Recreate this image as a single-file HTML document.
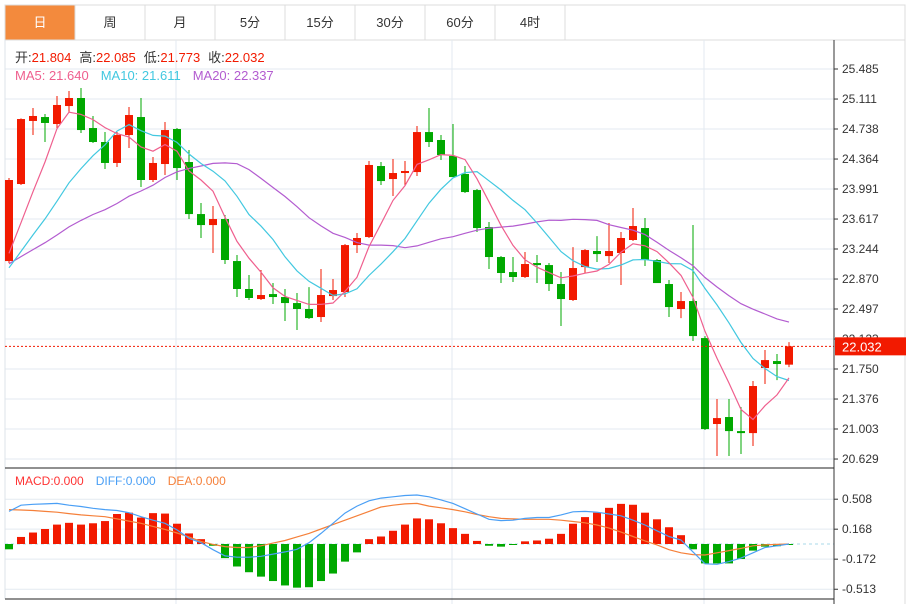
<!DOCTYPE html>
<html><head><meta charset="utf-8">
<style>
html,body{margin:0;padding:0;background:#fff;}
body{width:910px;height:604px;overflow:hidden;font-family:"Liberation Sans","Noto Sans CJK SC",sans-serif;}
svg text{font-family:"Liberation Sans","Noto Sans CJK SC",sans-serif;}
</style></head>
<body>
<svg id="chart" width="910" height="604" viewBox="0 0 910 604" xmlns="http://www.w3.org/2000/svg">
  <g id="tabs"></g>
  <g id="grid"></g>
  <g id="main"></g>
  <g id="macd"></g>
  <g id="axes"></g>
  <g id="legend"></g>
</svg>
<script>
// ---- data ----
const periods = ["日","周","月","5分","15分","30分","60分","4时"];
const historyCloses = [23.08,23.14,23.10,23.13,23.09,23.12,23.11,23.10,23.12,23.11,22.81,22.85,22.82,22.84,22.83,22.95,22.97,22.96,22.96];
const opens  = [23.094,24.053,24.838,24.887,24.800,25.024,25.124,24.750,24.576,24.315,24.663,24.887,24.103,24.302,24.738,24.327,23.679,23.542,23.617,23.094,22.746,22.621,22.683,22.646,22.571,22.497,22.397,22.658,22.708,23.293,23.393,24.277,24.115,24.190,24.202,24.700,24.601,24.402,24.178,23.978,23.518,23.144,22.957,22.895,23.069,23.044,22.808,22.609,23.019,23.219,23.156,23.194,23.356,23.505,23.107,22.808,22.497,22.596,22.135,21.065,21.152,20.977,20.952,21.762,21.849,21.804];
const highs  = [24.128,24.870,24.999,24.925,25.149,25.211,25.248,24.900,24.700,24.700,25.012,25.124,24.389,24.825,24.750,24.476,23.816,23.779,23.667,23.169,22.920,22.982,22.820,22.746,22.696,22.770,22.995,22.870,23.306,23.443,24.339,24.327,24.364,24.339,24.775,24.999,24.663,24.800,24.277,23.991,23.580,23.157,23.144,23.206,23.169,23.069,22.957,23.268,23.243,23.405,23.567,23.455,23.754,23.630,23.119,22.858,22.708,23.542,22.160,21.376,21.376,21.276,21.600,21.986,21.936,22.085];
const lows   = [23.069,24.040,24.663,24.576,24.750,24.950,24.688,24.564,24.240,24.265,24.501,24.016,24.078,24.165,24.103,23.617,23.381,23.194,23.057,22.646,22.609,22.609,22.559,22.347,22.235,22.372,22.335,22.609,22.646,23.194,23.381,24.041,23.904,24.041,24.153,24.514,24.352,24.140,23.941,23.455,22.995,22.820,22.833,22.883,22.820,22.721,22.285,22.596,22.945,23.082,23.069,22.795,23.343,23.032,22.820,22.397,22.384,22.098,20.990,20.666,20.666,20.691,20.791,21.563,21.612,21.773];
const closes = [24.103,24.862,24.900,24.813,25.037,25.124,24.725,24.576,24.315,24.663,24.912,24.103,24.315,24.725,24.252,23.679,23.542,23.617,23.107,22.746,22.634,22.671,22.646,22.571,22.497,22.384,22.671,22.733,23.293,23.381,24.290,24.090,24.190,24.215,24.700,24.576,24.414,24.140,23.953,23.505,23.144,22.945,22.895,23.057,23.044,22.808,22.621,23.007,23.231,23.181,23.219,23.381,23.530,23.107,22.820,22.521,22.596,22.160,21.002,21.139,20.977,20.952,21.538,21.861,21.812,22.032];
const macdHist = [-0.06,0.08,0.13,0.17,0.22,0.24,0.22,0.235,0.26,0.34,0.355,0.30,0.35,0.345,0.23,0.12,0.055,-0.02,-0.16,-0.255,-0.32,-0.37,-0.42,-0.47,-0.495,-0.49,-0.42,-0.335,-0.20,-0.095,0.055,0.085,0.15,0.22,0.29,0.28,0.235,0.18,0.115,0.035,-0.02,-0.03,-0.01,0.03,0.04,0.06,0.115,0.23,0.305,0.355,0.41,0.455,0.445,0.355,0.28,0.19,0.10,-0.06,-0.22,-0.22,-0.22,-0.17,-0.075,-0.03,-0.025,-0.005];
const diffVals = [0.37,0.44,0.45,0.455,0.46,0.44,0.425,0.405,0.39,0.38,0.355,0.31,0.27,0.235,0.16,0.065,0.015,-0.065,-0.135,-0.15,-0.15,-0.14,-0.115,-0.09,-0.06,0.015,0.12,0.235,0.35,0.43,0.49,0.52,0.535,0.55,0.555,0.535,0.50,0.46,0.40,0.34,0.28,0.265,0.27,0.29,0.30,0.30,0.33,0.365,0.37,0.36,0.34,0.32,0.27,0.215,0.15,0.085,0.045,-0.09,-0.225,-0.23,-0.2,-0.16,-0.1,-0.04,-0.02,0];
const deaVals  = [0.39,0.385,0.38,0.37,0.36,0.345,0.33,0.32,0.31,0.285,0.26,0.235,0.2,0.165,0.125,0.08,0.03,-0.005,-0.03,-0.04,-0.04,-0.02,0.01,0.04,0.08,0.12,0.17,0.22,0.27,0.32,0.37,0.42,0.44,0.455,0.46,0.43,0.41,0.39,0.365,0.335,0.31,0.29,0.285,0.28,0.28,0.28,0.27,0.255,0.24,0.215,0.18,0.135,0.085,0.035,-0.01,-0.065,-0.1,-0.12,-0.125,-0.1,-0.075,-0.05,-0.02,-0.01,-0.005,0];
const priceTicks = [25.485,25.111,24.738,24.364,23.991,23.617,23.244,22.870,22.497,22.123,21.750,21.376,21.003,20.629];
const macdTicks = [0.508,0.168,-0.172,-0.513];
const vGridIdx = [14,37,58];

// ---- scales ----
const NS="http://www.w3.org/2000/svg";
const X0=9, STEP=12, L=5, R=834;
const xAt=i=>X0+STEP*i;
const yP=p=>69+(25.485-p)*80.32;
const yM=v=>544-v*88.2;
const RED="#f21a00", GREEN="#00a800";
function mk(parent,tag,attrs,text){const e=document.createElementNS(NS,tag);for(const k in attrs)e.setAttribute(k,attrs[k]);if(text!==undefined)e.textContent=text;parent.appendChild(e);return e;}
const $=id=>document.getElementById(id);

// ---- tabs ----
const tabs=$('tabs');
mk(tabs,'rect',{x:5,y:5,width:900,height:35,fill:'#fff',stroke:'#dcdcdc'});
periods.forEach((p,i)=>{
  const g=mk(tabs,'g',{});
  
  
  const x=5+70*i;
  mk(g,'rect',{x:x,y:5,width:70,height:35,fill:i===0?'#f38a3d':'#fff',stroke:'#dcdcdc'});
  mk(g,'text',{x:x+35,y:27,'text-anchor':'middle','font-size':13,fill:i===0?'#fff':'#333'},p);
});

// ---- frame & grid ----
const grid=$('grid');
mk(grid,'line',{x1:905,y1:40,x2:905,y2:604,stroke:'#dcdcdc'});
priceTicks.forEach(t=>{const l=mk(grid,'line',{x1:L,x2:R,y1:yP(t),y2:yP(t),stroke:'#e3eaf0'});});
macdTicks.forEach(t=>{mk(grid,'line',{x1:L,x2:R,y1:yM(t),y2:yM(t),stroke:'#e3eaf0'});});
vGridIdx.forEach(i=>{const l=mk(grid,'line',{x1:xAt(i)-1,x2:xAt(i)-1,y1:40,y2:604,stroke:'#e3eaf0'});});
mk(grid,'line',{x1:L,x2:L,y1:40,y2:599,stroke:'#dde3e8'});

// ---- moving averages ----
const allCloses=historyCloses.concat(closes);
function ma(n){return closes.map((c,i)=>{const e=historyCloses.length+i+1;let s=0;for(let k=e-n;k<e;k++)s+=allCloses[k];return s/n;});}
const ma5=ma(5), ma10=ma(10), ma20=ma(20);

// ---- candles ----
const main=$('main');
closes.forEach((c,i)=>{
  const o=opens[i], up=c>=o, col=up?RED:GREEN, x=xAt(i);
  const g=mk(main,'g',{});
  
  
  mk(g,'line',{x1:x,x2:x,y1:yP(highs[i]),y2:yP(lows[i]),stroke:col,'stroke-width':1});
  const top=yP(Math.max(o,c)), h=Math.max(1.5,Math.abs(yP(o)-yP(c)));
  mk(g,'rect',{x:x-4,y:top,width:8,height:h,fill:col});
});
function poly(parent,vals,yf,color,name){
  const pts=vals.map((v,i)=>xAt(i)+','+yf(v).toFixed(1)).join(' ');
  const p=mk(parent,'polyline',{points:pts,fill:'none',stroke:color,'stroke-width':1.2});
  
  
}
poly(main,ma20,yP,'#b35cd0','ma20-line');
poly(main,ma10,yP,'#42c8e0','ma10-line');
poly(main,ma5,yP,'#ef5f8e','ma5-line');
const last=closes[closes.length-1];
const pl=mk(main,'line',{x1:L,x2:R,y1:yP(last),y2:yP(last),stroke:RED,'stroke-dasharray':'2,2'});



// ---- MACD ----
const macd=$('macd');
mk(macd,'line',{x1:L,x2:R,y1:yM(0),y2:yM(0),stroke:'#a8d8ea','stroke-dasharray':'3,3'});
macdHist.forEach((v,i)=>{
  const r=mk(macd,'rect',{x:xAt(i)-4,y:Math.min(yM(0),yM(v)),width:8,height:Math.max(1,Math.abs(yM(v)-yM(0))),fill:v>=0?RED:GREEN});
  
  
});
poly(macd,deaVals,yM,'#f5803a','dea-line');
poly(macd,diffVals,yM,'#4a9ff5','diff-line');

// ---- axes ----
const axes=$('axes');
mk(axes,'line',{x1:R,x2:R,y1:40,y2:604,stroke:'#333'});
mk(axes,'line',{x1:L,x2:R,y1:468,y2:468,stroke:'#222'});
mk(axes,'line',{x1:L,x2:R,y1:599,y2:599,stroke:'#222'});
priceTicks.forEach(t=>{
  mk(axes,'line',{x1:R,x2:R+4,y1:yP(t),y2:yP(t),stroke:'#333'});
  const tx=mk(axes,'text',{x:842,y:yP(t)+4,'font-size':12,fill:'#333'},t.toFixed(3));
  
  
});
macdTicks.forEach(t=>{
  mk(axes,'line',{x1:R,x2:R+4,y1:yM(t),y2:yM(t),stroke:'#333'});
  const tx=mk(axes,'text',{x:842,y:yM(t)+4,'font-size':12,fill:'#333'},t.toFixed(3));
  
  
});
const lb=mk(axes,'g',{});


mk(lb,'rect',{x:835,y:yP(last)-9,width:71,height:18,fill:RED});
mk(lb,'text',{x:842,y:yP(last)+5,'font-size':13,fill:'#fff'},last.toFixed(3));
</script>
<div style="position:absolute;left:0;top:0;">
<svg width="910" height="604" style="position:absolute;left:0;top:0;">
  <g font-size="13" font-family="Liberation Sans, Noto Sans CJK SC, sans-serif">
    <text x="15" y="62"><tspan fill="#333">开:</tspan><tspan fill="#f21a00">21.804</tspan><tspan fill="#333" dx="8">高:</tspan><tspan fill="#f21a00">22.085</tspan><tspan fill="#333" dx="8">低:</tspan><tspan fill="#f21a00">21.773</tspan><tspan fill="#333" dx="8">收:</tspan><tspan fill="#f21a00">22.032</tspan></text>
    <text x="15" y="80"><tspan fill="#ef5f8e">MA5: 21.640</tspan><tspan fill="#42c8e0" dx="12">MA10: 21.611</tspan><tspan fill="#b35cd0" dx="12">MA20: 22.337</tspan></text>
    <text x="15" y="485" font-size="12"><tspan fill="#f33">MACD:0.000</tspan><tspan fill="#4a9ff5" dx="12">DIFF:0.000</tspan><tspan fill="#f5803a" dx="12">DEA:0.000</tspan></text>
  </g>
</svg>
</div>
</body></html>
